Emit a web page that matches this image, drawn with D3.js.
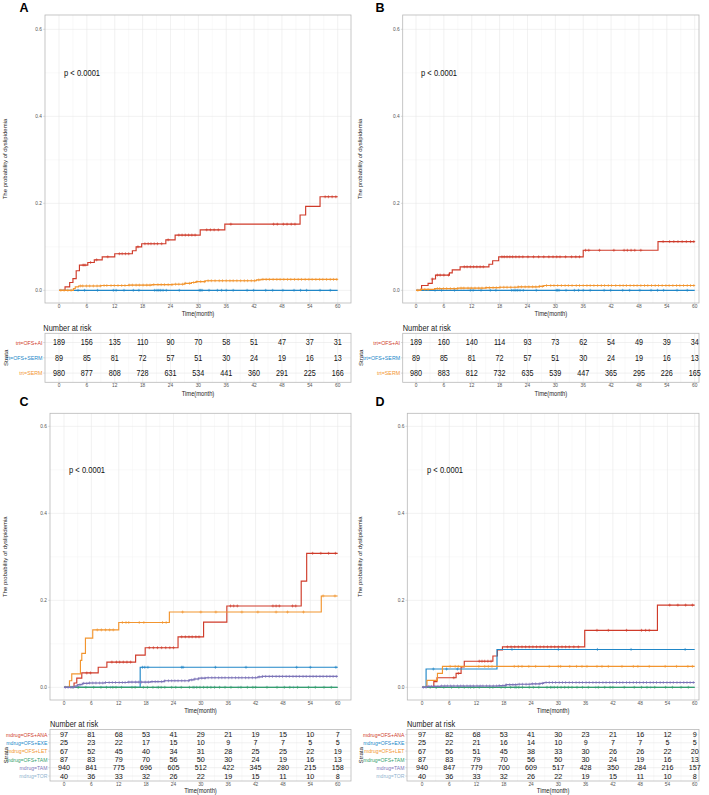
<!DOCTYPE html>
<html><head><meta charset="utf-8">
<script src="https://cdn.jsdelivr.net/npm/d3@7"></script>
<style>body{margin:0;background:#fff}svg{display:block}text{font-family:"Liberation Sans",Arial,Helvetica,sans-serif}</style>
</head><body><script>
// ---------- axis ticks ----------
const timeTicks = [0,6,12,18,24,30,36,42,48,54,60];
const timeMinor = [3,9,15,21,27,33,39,45,51,57];
const probTicks = [0,0.2,0.4,0.6];
const probMinor = [0.1,0.3,0.5];

// ---------- strata ----------
const strataAB = ["trt=OFS+AI","trt=OFS+SERM","trt=SERM"];
const strataCD = ["mdrug=OFS+ANA","mdrug=OFS+EXE","mdrug=OFS+LET","mdrug=OFS+TAM","mdrug=TAM","mdrug=TOR"];

// ---------- Panel A curves ----------
const A_red_t = [0,1.3,2.3,3.0,3.7,4.4,6.2,7.6,9.3,12.0,15.8,16.6,17.8,23.0,25.0,30.4,35.7,51.9,53.1,56.2];
const A_red_v = [0,0.008,0.018,0.027,0.045,0.058,0.064,0.070,0.077,0.084,0.091,0.100,0.107,0.116,0.127,0.139,0.152,0.173,0.193,0.215];
const A_red_c = [5.2,5.6,6.8,8.1,10.5,13,13.6,14.3,15,17,18.5,19.2,19.8,20.5,21.2,22.1,23.5,25.8,26.5,27.2,27.9,28.6,29.3,31.8,32.6,33.4,34.3,37,46.2,47,48.3,49.1,50,50.8,57.3,58,58.8,59.6];
const A_org_t = [0,3.1,3.5,4.2,9,15,20,24.5,27,28.5,29.5,31.5,42.5,43.5];
const A_org_v = [0,0.004,0.008,0.010,0.011,0.012,0.013,0.014,0.016,0.018,0.020,0.022,0.024,0.025];
const A_blu_t = [0];
const A_blu_v = [0];

// ---------- Panel B curves ----------
const B_red_t = [0,1.2,2.6,3.5,4.2,7.2,7.8,9.5,15.7,16.5,17.8,36.0,52.1];
const B_red_v = [0,0.011,0.016,0.026,0.035,0.040,0.047,0.054,0.060,0.068,0.077,0.092,0.112];
const B_red_c = [3.5,4.6,5.2,6,7,10.4,11,11.7,12.4,13.1,13.8,14.5,18.5,19,19.6,20.2,20.8,21.5,22.2,23,24.1,25.3,26.4,27.5,28.6,29.5,30.3,31,32.2,33.5,34.4,35.2,36.5,37.2,39.5,42.6,44.8,45.5,46.3,47.1,48.4,53.2,54.6,55.5,56.4,57.3,58.2,59.1,59.8];
const B_org_t = [0,1.0,4.0,9.0,15.0,18.0,22.0,26.5,27.5];
const B_org_v = [0,0.002,0.004,0.005,0.006,0.007,0.008,0.009,0.011];
const B_blu_t = [0];
const B_blu_v = [0];

// shared censoring (same cohorts)
const SERM_c = [0.4,1.1,1.9,2.6,4.6,5.1,5.9,6.6,7.4,8.2,8.9,9.7,10.3,11.2,11.9,12.7,13.5,14.2,15.1,15.8,16.6,17.3,18.1,18.9,19.6,20.4,21.3,22,22.7,23.5,24.3,25.1,25.8,26.6,27.2,28.1,29,29.7,30.5,31.3,32.1,32.8,33.6,34.5,35.2,36,36.8,37.5,38.3,39.1,39.9,40.6,41.4,42.1,43,43.9,44.6,45.3,46.1,46.9,47.6,48.4,49.2,49.9,50.7,51.5,52.2,53,53.8,54.5,55.3,56.1,56.8,57.6,58.4,59.1,59.8];
const OFSSERM_c = [4.1,5.5,8.3,11.7,12.3,14,16,17.2,20.6,21.1,21.5,21.9,22.4,23.1,25.9,30.2,30.5,30.8,32.3,34.1,35,36,37.5,40.5,41.9,44.5,46,48.2,50.6,52,53.3,56.2,58.4];

// ---------- Panel C curves ----------
const C_ana_t = [0,2.2,2.8,3.9,7.5,9.4,15.7,17.8,25.0,30.6,35.7,52.0,53.2];
const C_ana_v = [0,0.010,0.021,0.033,0.046,0.058,0.074,0.091,0.116,0.150,0.187,0.244,0.308];
const C_ana_c = [5,5.8,10.5,11.5,12.2,13,13.8,14.6,18.7,19.6,20.5,21.4,22.3,23.2,24,25.8,26.6,27.4,28.1,28.9,29.6,36.5,37.2,38,45.8,46.5,47.2,50.1,50.8,54.5,56.3,58,59.5];
const C_exe_t = [0,16.7];
const C_exe_v = [0,0.046];
const C_exe_c = [17.2,17.7,18.4,25.8,26.1,33.2,39.9,51,54,59.6];
const C_let_t = [0,1.2,1.7,3.6,3.9,4.7,6.3,12.0,23.1,56.4];
const C_let_v = [0,0.015,0.031,0.062,0.078,0.113,0.132,0.149,0.173,0.210];
const C_let_c = [7.3,8.2,9.1,10,10.8,12.8,13.6,14.2,16.5,17.5,21.6,22.4,26,30,33.3,39,42.5,46.5,49,52.5,56.8,59.4];
const C_ofstam_t = [0];
const C_ofstam_v = [0];
const C_tam_t = [0,2.4,3.0,4.0,5.5,9,14,19,22,27.5,28.5,29.5,31,42.5,43.5];
const C_tam_v = [0,0.003,0.006,0.009,0.010,0.011,0.012,0.013,0.015,0.017,0.019,0.021,0.022,0.024,0.025];
const C_tor_t = [0];
const C_tor_v = [0];

// ---------- Panel D curves ----------
const D_ana_t = [0,2.6,3.3,7.5,8.6,9.3,15.6,16.6,17.7,35.8,51.8];
const D_ana_v = [0,0.013,0.022,0.032,0.047,0.060,0.072,0.086,0.093,0.131,0.189];
const D_ana_c = [7,8,12.6,13.2,13.8,14.5,15.2,18.8,19.6,20.4,21.2,22,22.8,23.6,24.4,25.2,26,26.8,27.6,28.4,29.2,30,30.8,31.6,32.4,33.4,34.4,38.5,41,45,48.3,49.2,50,54.5,56.3,58,59.5];
const D_exe_t = [0,0.9,16.5];
const D_exe_v = [0,0.042,0.087];
const D_exe_c = [2.5,5.4,7.8,19.8,30,38.6,46,57.9];
const D_let_t = [0,1.1,3.4,4.5];
const D_let_v = [0,0.016,0.032,0.048];
const D_let_c = [6.2,7.3,8,12.5,13.8,14.6,15.4,20.3,21.2,22,23.5,25,28,30,30.5,32.5,34,35.2,36.3,38.5,39.6,41,44,46.5,47.5,50,53.5,56,58.5,59.5];
const D_ofstam_t = [0];
const D_ofstam_v = [0];
const D_tam_t = [0,1,4,17,18.5,21,24,26,26.8];
const D_tam_v = [0,0.002,0.003,0.004,0.006,0.007,0.008,0.009,0.011];
const D_tor_t = [0];
const D_tor_v = [0];

const OFSTAM_c = [1.8,3.2,4.8,6.5,8.1,9.3,10.7,11.4,12.6,14.9,15.6,17.4,18.3,19.5,20.7,21.3,22.1,23.6,24.5,25.7,27.5,28.3,29.1,29.8,30.6,31.4,32.2,33,34.1,35.3,36.6,38.8,40.2,41.4,42,44.5,46.7,48.3,49.5,51.2,53.6,55.1,57,58.6];
const TAM_c = [0.3,0.9,1.5,2.1,2.8,3.5,4.3,5,5.6,6.3,7,7.8,8.5,9.1,9.9,10.6,11.3,12.1,12.8,13.4,14.2,14.9,15.7,16.4,17,17.8,18.5,19.3,20,20.6,21.4,22.1,22.9,23.6,24.3,25,25.8,26.5,27.3,28,28.7,29.4,30.2,30.9,31.6,32.4,33.1,33.9,34.6,35.3,36.1,36.8,37.6,38.3,39,39.8,40.5,41.3,42,42.8,43.5,44.2,45,45.7,46.5,47.2,47.9,48.7,49.4,50.2,50.9,51.6,52.4,53.1,53.9,54.6,55.3,56.1,56.8,57.6,58.3,59,59.7];
const TOR_c = [3,10.2,20.4,28.6,38.2,50.3];

// ---------- numbers at risk ----------
const A_risk = [
  [189,156,135,110,90,70,58,51,47,37,31],
  [89,85,81,72,57,51,30,24,19,16,13],
  [980,877,808,728,631,534,441,360,291,225,166]];
const B_risk = [
  [189,160,140,114,93,73,62,54,49,39,34],
  [89,85,81,72,57,51,30,24,19,16,13],
  [980,883,812,732,635,539,447,365,295,226,165]];
const C_risk = [
  [97,81,68,53,41,29,21,19,15,10,7],
  [25,23,22,17,15,10,9,7,7,5,5],
  [67,52,45,40,34,31,28,25,25,22,19],
  [87,83,79,70,56,50,30,24,19,16,13],
  [940,841,775,696,605,512,422,345,280,215,158],
  [40,36,33,32,26,22,19,15,11,10,8]];
const D_risk = [
  [97,82,68,53,41,30,23,21,16,12,9],
  [25,22,21,16,14,10,9,7,7,5,5],
  [67,56,51,45,38,33,30,26,26,22,20],
  [87,83,79,70,56,50,30,24,19,16,13],
  [940,847,779,700,609,517,428,350,284,216,157],
  [40,36,33,32,26,22,19,15,11,10,8]];

// ---------- colours ----------
const colAB = ["#CF3B2A","#2087C8","#F2952F"];
const colCD = ["#CF3B2A","#2087C8","#F2952F","#35A06E","#7C74B8","#8FB2CE"];

// ---------- drawing ----------
const svg = d3.select("body").append("svg").attr("width",709).attr("height",795);

function T(g,x,y,s,o){
  o=o||{};
  const tr = `translate(${x},${y})` + (o.rot?` rotate(${o.rot})`:"") + ` scale(1,${o.sy||1})`;
  return g.append("text").attr("transform",tr)
    .attr("text-anchor",o.anchor||"start")
    .attr("dominant-baseline",o.base||"auto")
    .attr("font-size",o.size||6)
    .attr("font-weight",o.bold?"bold":null)
    .attr("fill",o.fill||"#000").text(s);
}

function drawPanel(L, curves, risk, strata, colors, letter){
  const g = svg.append("g");
  const x = d3.scaleLinear().domain([0,60]).range([L.x0,L.x60]);
  const y = d3.scaleLinear().domain([0,0.6]).range([L.y0,L.y06]);
  const p = L.plot;
  T(g,L.letter[0],L.letter[1],letter,{size:12.5,bold:true});
  // grid
  g.selectAll(null).data(timeMinor).enter().append("line")
    .attr("x1",d=>x(d)).attr("x2",d=>x(d)).attr("y1",p.t).attr("y2",p.b)
    .attr("stroke","#F3F3F3").attr("stroke-width",0.5);
  g.selectAll(null).data(probMinor).enter().append("line")
    .attr("y1",d=>y(d)).attr("y2",d=>y(d)).attr("x1",p.l).attr("x2",p.r)
    .attr("stroke","#F3F3F3").attr("stroke-width",0.5);
  g.selectAll(null).data(timeTicks).enter().append("line")
    .attr("x1",d=>x(d)).attr("x2",d=>x(d)).attr("y1",p.t).attr("y2",p.b)
    .attr("stroke","#E8E8E8").attr("stroke-width",0.6);
  g.selectAll(null).data(probTicks).enter().append("line")
    .attr("y1",d=>y(d)).attr("y2",d=>y(d)).attr("x1",p.l).attr("x2",p.r)
    .attr("stroke","#E8E8E8").attr("stroke-width",0.6);
  // curves
  const line = d3.line().x(d=>x(d[0])).y(d=>y(d[1])).curve(d3.curveStepAfter);
  curves.forEach(c=>{
    const col = colors[c.k];
    const pts = c.t.map((t,i)=>[t,c.v[i]]);
    pts.push([c.end, c.v[c.v.length-1]]);
    g.append("path").attr("d",line(pts)).attr("fill","none")
      .attr("stroke",col).attr("stroke-width",1.15);
    const val = tt=>{let v=0; c.t.forEach((t,i)=>{if(t<=tt)v=c.v[i];}); return v;};
    const dd = c.cens.map(cc=>{const px=x(cc),py=y(val(cc));return `M${px-1.5},${py}h3M${px},${py-1.5}v3`;}).join("");
    g.append("path").attr("d",dd).attr("stroke",col).attr("stroke-width",0.6).attr("fill","none");
  });
  // border
  g.append("rect").attr("x",p.l).attr("y",p.t).attr("width",p.r-p.l).attr("height",p.b-p.t)
    .attr("fill","none").attr("stroke","#B8B8B8").attr("stroke-width",0.8);
  // y axis
  probTicks.forEach(v=>{
    g.append("line").attr("x1",p.l-1.8).attr("x2",p.l).attr("y1",y(v)).attr("y2",y(v)).attr("stroke","#B8B8B8").attr("stroke-width",0.5);
    T(g,p.l-3,y(v),v.toFixed(1),{size:4.8,anchor:"end",base:"central",fill:"#555"});
  });
  T(g,L.ytx,(p.t+p.b)/2,"The probability of dyslipidemia",{size:6,anchor:"middle",base:"central",rot:-90,fill:"#222"});
  // x axis
  timeTicks.forEach(v=>{
    g.append("line").attr("x1",x(v)).attr("x2",x(v)).attr("y1",p.b).attr("y2",p.b+1.8).attr("stroke","#B8B8B8").attr("stroke-width",0.5);
    T(g,x(v),p.b+3.6,String(v),{size:4.8,anchor:"middle",base:"central",fill:"#555"});
  });
  T(g,(p.l+p.r)/2,p.b+13.3,"Time(month)",{size:5.8,anchor:"middle",sy:1.2,fill:"#222"});
  // p value
  T(g,x(0)+5,y(0.5),"p < 0.0001",{size:7.6,base:"central",sy:1.22,fill:"#111"});

  // ---------- risk table ----------
  const tb = L.table;
  const n = risk.length;
  const unit = (tb.b-tb.t)/(n-1+1.2);
  const ry = i=>tb.t+unit*(0.6+i);
  T(g,L.nar[0],L.nar[1],"Number at risk",{size:7.4,sy:1.15,fill:"#1a1a1a"});
  g.selectAll(null).data(timeMinor).enter().append("line")
    .attr("x1",d=>x(d)).attr("x2",d=>x(d)).attr("y1",tb.t).attr("y2",tb.b)
    .attr("stroke","#F3F3F3").attr("stroke-width",0.5);
  g.selectAll(null).data(timeTicks).enter().append("line")
    .attr("x1",d=>x(d)).attr("x2",d=>x(d)).attr("y1",tb.t).attr("y2",tb.b)
    .attr("stroke","#E8E8E8").attr("stroke-width",0.6);
  risk.forEach((row,i)=>{
    g.append("line").attr("x1",tb.l).attr("x2",p.r).attr("y1",ry(i)).attr("y2",ry(i)).attr("stroke","#E8E8E8").attr("stroke-width",0.6);
  });
  g.append("rect").attr("x",tb.l).attr("y",tb.t).attr("width",p.r-tb.l).attr("height",tb.b-tb.t)
    .attr("fill","none").attr("stroke","#B8B8B8").attr("stroke-width",0.8);
  risk.forEach((row,i)=>{
    row.forEach((v,j)=>T(g,x(timeTicks[j]),ry(i),String(v),{size:L.nfs,anchor:"middle",base:"central",sy:L.nsy,fill:"#111"}));
    g.append("line").attr("x1",tb.l-1.8).attr("x2",tb.l).attr("y1",ry(i)).attr("y2",ry(i)).attr("stroke","#B8B8B8").attr("stroke-width",0.5);
    T(g,tb.l-2.6,ry(i),strata[i],{size:L.sfs,anchor:"end",base:"central",sy:1.12,fill:colors[i]});
  });
  T(g,L.ytx,(tb.t+tb.b)/2,"Strata",{size:6.2,anchor:"middle",base:"central",rot:-90,fill:"#222"});
  timeTicks.forEach(v=>{
    g.append("line").attr("x1",x(v)).attr("x2",x(v)).attr("y1",tb.b).attr("y2",tb.b+1.8).attr("stroke","#B8B8B8").attr("stroke-width",0.5);
    T(g,x(v),tb.b+3.6,String(v),{size:4.8,anchor:"middle",base:"central",fill:"#555"});
  });
  T(g,(p.l+p.r)/2,tb.b+L.tto,"Time(month)",{size:5.8,anchor:"middle",sy:1.2,fill:"#222"});
}

const LA = {letter:[19.5,12.3],plot:{l:45,r:351,t:15,b:303},x0:59,x60:337.7,y0:290.3,y06:29.3,
  table:{l:45,t:333.3,b:382.3},nar:[43.3,330.5],ytx:5,nfs:7.2,nsy:1.22,sfs:5.3,tto:13.3};
const LB = {letter:[375.5,12.3],plot:{l:402.7,r:699,t:15,b:303},x0:416,x60:694.7,y0:290.3,y06:29.3,
  table:{l:402.7,t:333.3,b:382.3},nar:[402.7,330.5],ytx:360,nfs:7.2,nsy:1.22,sfs:5.3,tto:13.3};
const LC = {letter:[19.5,406],plot:{l:50,r:351,t:413.3,b:700},x0:64,x60:337.7,y0:687.3,y06:426.3,
  table:{l:50,t:729.5,b:781},nar:[50,726.5],ytx:5,nfs:7.2,nsy:1.1,sfs:5.1,tto:11.5};
const LD = {letter:[375.5,406],plot:{l:407.3,r:699,t:413.3,b:700},x0:422,x60:694.7,y0:687.3,y06:426.3,
  table:{l:407,t:729.5,b:781},nar:[407,726.5],ytx:360,nfs:7.2,nsy:1.1,sfs:5.1,tto:11.5};

drawPanel(LA,[
  {k:0,t:A_red_t,v:A_red_v,cens:A_red_c,end:60},
  {k:1,t:A_blu_t,v:A_blu_v,cens:OFSSERM_c,end:60},
  {k:2,t:A_org_t,v:A_org_v,cens:SERM_c,end:60}],A_risk,strataAB,colAB,"A");
drawPanel(LB,[
  {k:0,t:B_red_t,v:B_red_v,cens:B_red_c,end:60},
  {k:1,t:B_blu_t,v:B_blu_v,cens:OFSSERM_c,end:60},
  {k:2,t:B_org_t,v:B_org_v,cens:SERM_c,end:60}],B_risk,strataAB,colAB,"B");
drawPanel(LC,[
  {k:5,t:C_tor_t,v:C_tor_v,cens:TOR_c,end:60},
  {k:0,t:C_ana_t,v:C_ana_v,cens:C_ana_c,end:60},
  {k:1,t:C_exe_t,v:C_exe_v,cens:C_exe_c,end:60},
  {k:2,t:C_let_t,v:C_let_v,cens:C_let_c,end:60},
  {k:3,t:C_ofstam_t,v:C_ofstam_v,cens:OFSTAM_c,end:60},
  {k:4,t:C_tam_t,v:C_tam_v,cens:TAM_c,end:60}],C_risk,strataCD,colCD,"C");
drawPanel(LD,[
  {k:5,t:D_tor_t,v:D_tor_v,cens:TOR_c,end:60},
  {k:0,t:D_ana_t,v:D_ana_v,cens:D_ana_c,end:60},
  {k:1,t:D_exe_t,v:D_exe_v,cens:D_exe_c,end:60},
  {k:2,t:D_let_t,v:D_let_v,cens:D_let_c,end:60},
  {k:3,t:D_ofstam_t,v:D_ofstam_v,cens:OFSTAM_c,end:60},
  {k:4,t:D_tam_t,v:D_tam_v,cens:TAM_c,end:60}],D_risk,strataCD,colCD,"D");
</script></body></html>
